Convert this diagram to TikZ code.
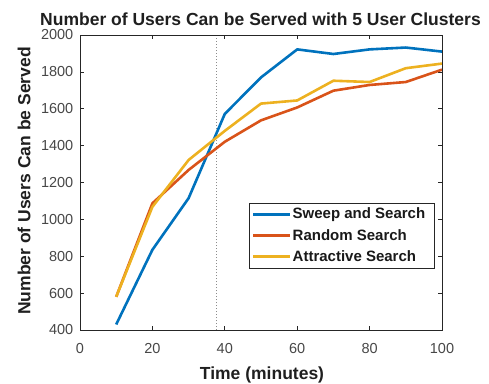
\documentclass[tikz,border=0pt]{standalone}
\usepackage{fontspec}
\setmainfont{Liberation Sans}
\definecolor{mblue}{rgb}{0,0.447,0.741}
\definecolor{morange}{rgb}{0.85,0.325,0.098}
\definecolor{myellow}{rgb}{0.929,0.694,0.125}
\definecolor{axcol}{rgb}{0.15,0.15,0.15}
\begin{document}
\begin{tikzpicture}[
  axisline/.style={draw=axcol, line width=0.7pt},
  ticklab/.style={text=black!72, font=\fontsize{14.5}{16}\selectfont, inner sep=0pt},
  axlab/.style={text=black!88, font=\fontsize{17.5}{20}\selectfont\bfseries, inner sep=0pt},
  series/.style={line width=2.6pt, line join=round},
  legtext/.style={text=black!90, font=\fontsize{15}{17}\selectfont\bfseries, inner sep=0pt, anchor=west}
]
\useasboundingbox (0,0) rectangle (489pt,383pt);
% title
\node[axlab, font=\fontsize{17.5}{20}\selectfont\bfseries] (title) at (260.5pt,364pt) {Number of Users Can be Served with 5 User Clusters};
% data scope
\begin{scope}[shift={(80pt,-20.75pt)}, x=3.62pt, y=0.184375pt]
  % ticks
  \foreach \t in {0,20,...,100} {
    \draw[axisline] (\t,400) -- ++(0,3.6pt);
    \draw[axisline] (\t,2000) -- ++(0,-3.6pt);
    \node[ticklab] (xt\t) at ([yshift=-19pt]\t,400) {\t};
  }
  \foreach \v in {400,600,...,2000} {
    \draw[axisline] (0,\v) -- ++(3.6pt,0);
    \draw[axisline] (100,\v) -- ++(-3.6pt,0);
    \node[ticklab, anchor=east] (yt\v) at ([xshift=-6.5pt]0,\v) {\v};
  }
  % dotted marker
  \coordinate (dtop) at (37.8,2000);
  \coordinate (dbot) at (37.8,400);
  \draw[gray!90, line width=1pt, dash pattern=on 1pt off 2pt] (dbot) -- (dtop);
  % series
  \draw[series, mblue] plot coordinates {(10,430) (20,835) (30,1115) (40,1572) (50,1770) (60,1922) (70,1897) (80,1922) (90,1932) (100,1910)};
  \draw[series, morange] plot coordinates {(10,580) (20,1087) (30,1268) (40,1421) (50,1537) (60,1607) (70,1698) (80,1729) (90,1745) (100,1812)};
  \draw[series, myellow] plot coordinates {(10,580) (20,1068) (30,1322) (40,1480) (50,1628) (60,1645) (70,1752) (80,1745) (90,1820) (100,1845)};
\end{scope}
% axes box
\draw[axisline] (80pt,53pt) rectangle (442pt,348pt);
% axis labels
\node[axlab] (xlab) at (262pt,8pt) {Time (minutes)};
\node[axlab, rotate=90] (ylab) at (24pt,202pt) {Number of Users Can be Served};
% legend
\draw[draw=axcol, fill=white, line width=0.6pt] (249pt,115pt) rectangle (434pt,180pt);
\foreach \y/\c/\txt/\n in {168.5/mblue/Sweep and Search/a, 147.5/morange/Random Search/b, 126.5/myellow/Attractive Search/c} {
  \coordinate (l\n1) at (253pt,\y pt);
  \coordinate (l\n2) at (290pt,\y pt);
  \draw[series, \c] (l\n1) -- (l\n2);
  \node[legtext] (lt\n) at (292.5pt,\y pt) {\txt};
}
\end{tikzpicture}
\end{document}
